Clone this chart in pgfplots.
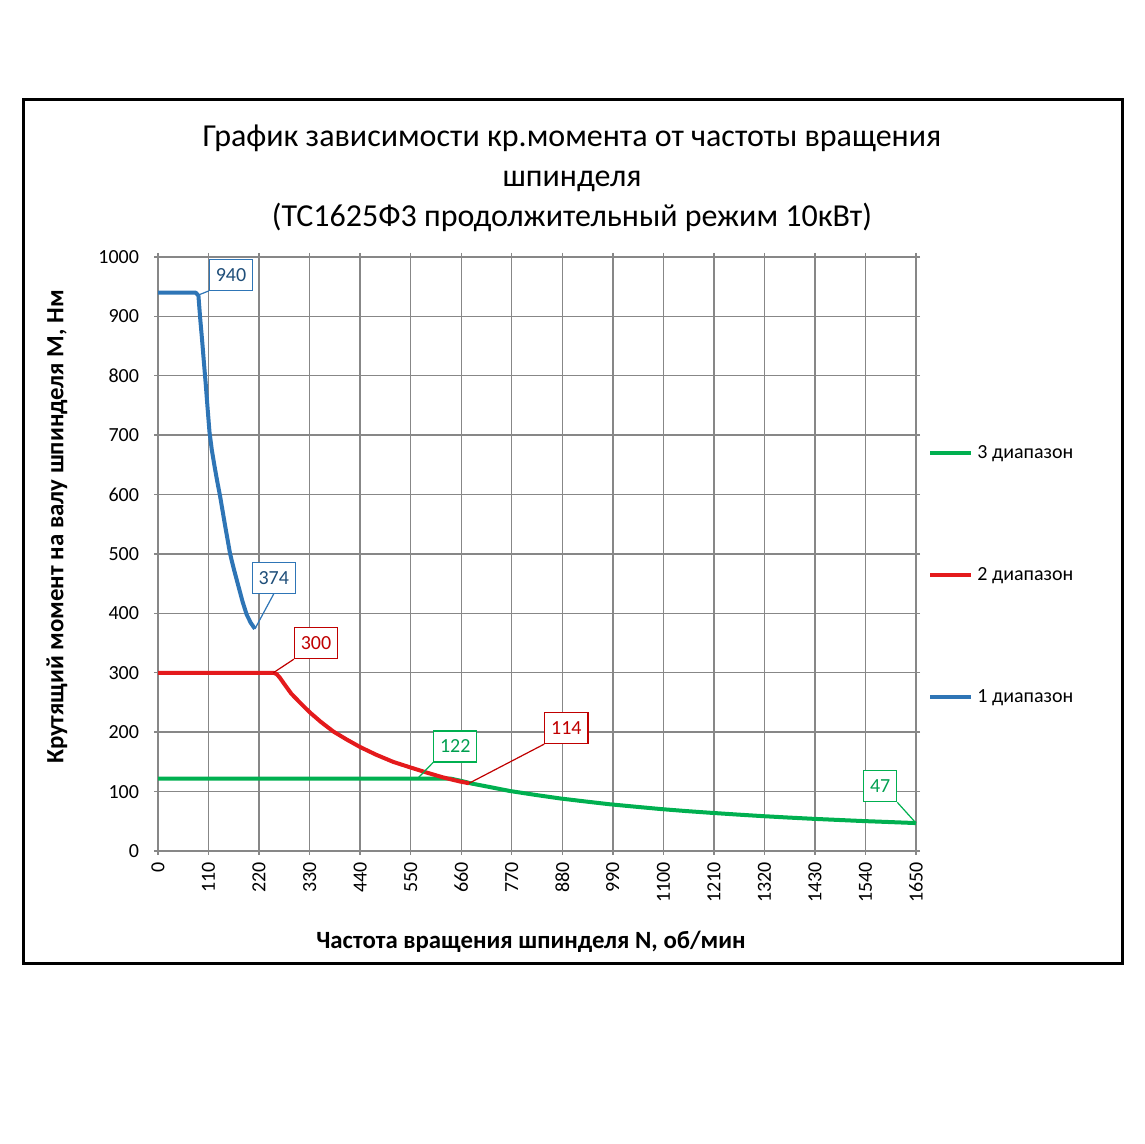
\documentclass[border=0pt]{standalone}
\usepackage{fontspec}
\setmainfont{Carlito}
\usepackage{pgfplots}
\pgfplotsset{compat=1.18}

\definecolor{bl}{HTML}{2E75B6}
\definecolor{bltxt}{HTML}{1F4E79}
\definecolor{rd}{HTML}{E41A1C}
\definecolor{rdtxt}{HTML}{C00000}
\definecolor{gr}{HTML}{00B050}
\definecolor{grtxt}{HTML}{00A050}
\definecolor{gridc}{HTML}{878787}

\tikzset{lbl/.style={draw, fill=white, line width=0.6pt, inner xsep=3.2pt,
  minimum height=15.5pt, font=\fontsize{10}{12}\selectfont}}

\begin{document}
\begin{tikzpicture}
\useasboundingbox (0,0) rectangle (572pt,572pt);
\fill[white] (0,0) rectangle (572pt,572pt);
\draw[line width=1.5pt] (11.5pt,90pt) rectangle (561pt,522pt);

\node[align=center, font=\fontsize{16}{20}\selectfont] at (286pt,483pt)
  {График зависимости кр.момента от частоты вращения\\ шпинделя\\ (ТС1625Ф3 продолжительный режим 10кВт)};
\node[rotate=90, font=\bfseries\fontsize{12.4}{14}\selectfont] at (28.5pt,308.5pt)
  {Крутящий момент на валу шпинделя М, Нм};
\node[font=\bfseries\fontsize{12.4}{14}\selectfont] at (265.5pt,101pt)
  {Частота вращения шпинделя N, об/мин};

\begin{axis}[
  scale only axis, width=379pt, height=297pt,
  at={(79pt,146.5pt)}, anchor=south west,
  xmin=0, xmax=1650, ymin=0, ymax=1000,
  xtick={0,110,...,1650}, ytick={0,100,...,1000},
  grid=major, grid style={gridc, line width=0.7pt},
  axis line style={gridc, line width=0.7pt},
  tick style={gridc, line width=0.7pt}, tick align=outside, major tick length=2pt,
  /pgf/number format/assume math mode=true,
  /pgf/number format/1000 sep={},
  ticklabel style={font=\fontsize{10}{12}\selectfont},
  xticklabel style={rotate=90, anchor=east, xshift=0pt},
  yticklabel style={xshift=-4pt},
  clip=false,
  every axis plot/.append style={line width=2pt, line join=round},
  legend style={at={(1.008,0.697)}, anchor=north west, draw=none, fill=none,
    row sep=49pt, font=\fontsize{10}{12}\selectfont},
  legend cell align=left,
  legend image code/.code={\draw[#1] (0pt,0pt) -- (20.5pt,0pt);},
]
\addplot[gr] coordinates {
 (0,122) (560,122) (636,122) (660,118) (683,113.5) (720,108) (766,101) (820,94.6)
 (875,88.5) (930,83.4) (984,78.6) (1040,74.5) (1096,70.5) (1150,67.2) (1205,64.2)
 (1260,61.4) (1314,58.8) (1370,56.4) (1423,54.3) (1480,52.3) (1532,50.5)
 (1590,48.8) (1650,47)};
\addlegendentry{3 диапазон}
\addplot[rd] coordinates {
 (0,300) (251,300) (258,298) (265,292) (275,281) (290,265) (310,249) (331,233)
 (355,217) (382,201) (410,188) (440,175) (475,162) (512,150) (548,141)
 (585,132) (620,124) (657,117) (677,114)};
\addlegendentry{2 диапазон}
\addplot[bl] coordinates {
 (0,940) (82,940) (88,935) (92,895) (96,860) (100,822) (104,785) (108,745)
 (112,706) (117,676) (123,648) (129,622) (135,598) (146,548) (157,500)
 (166,472) (175,446) (184,420) (193,398) (202,384) (211,374)};
\addlegendentry{1 диапазон}

\node[lbl, draw=bl, text=bltxt] (a) at (axis cs:159,970) {940};
\draw[bl, line width=0.6pt] (a.south west) -- (axis cs:88,936);
\node[lbl, draw=bl, text=bltxt] (b) at (axis cs:252,460) {374};
\draw[bl, line width=0.6pt] (b.south) -- (axis cs:211,374);
\node[lbl, draw=rdtxt, text=rdtxt] (c) at (axis cs:344,350) {300};
\draw[rdtxt, line width=0.6pt] (c.south west) -- (axis cs:251,300);
\node[lbl, draw=gr, text=grtxt] (d) at (axis cs:647,176) {122};
\draw[gr, line width=0.6pt] (d.south west) -- (axis cs:565,122);
\node[lbl, draw=rdtxt, text=rdtxt] (e) at (axis cs:889,207) {114};
\draw[rdtxt, line width=0.6pt] (e.south west) -- (axis cs:677,114);
\node[lbl, draw=gr, text=grtxt] (f) at (axis cs:1572,109) {47};
\draw[gr, line width=0.6pt] (f.south east) -- (axis cs:1650,47);
\end{axis}
\end{tikzpicture}
\end{document}
